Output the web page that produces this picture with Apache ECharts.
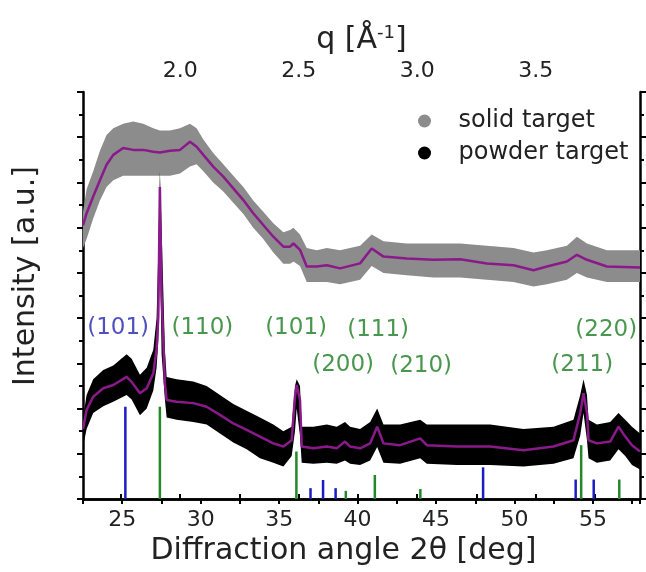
<!DOCTYPE html>
<html>
<head>
<meta charset="utf-8">
<script src="https://cdn.jsdelivr.net/npm/echarts@6/dist/echarts.min.js"></script>
<style>
  html, body { margin: 0; padding: 0; background: #fff; }
  #chart { width: 646px; height: 572px; }
</style>
</head>
<body>
<div id="chart"></div>
<script>
// solid target: smoothed curve and the envelope of the gray data cloud
const solidX    = [22.5, 22.73, 23.15, 23.58, 24.0, 24.43, 25.06, 25.7, 26.34, 26.98, 27.4, 28.04, 28.68, 29.32, 29.74, 30.17, 30.8, 31.44, 32.08, 32.72, 33.35, 33.99, 34.63, 35.27, 35.7, 35.91, 36.33, 36.76, 37.4, 38.04, 38.88, 40.16, 40.9, 41.65, 43.14, 44.84, 46.54, 48.24, 49.94, 51.21, 52.07, 53.34, 53.98, 54.62, 55.89, 58.0]
const solidLine = [6.05, 6.32, 6.69, 7.05, 7.39, 7.61, 7.76, 7.72, 7.72, 7.68, 7.66, 7.7, 7.72, 7.9, 7.79, 7.61, 7.35, 7.13, 6.87, 6.61, 6.32, 6.06, 5.8, 5.58, 5.58, 5.65, 5.51, 5.14, 5.14, 5.17, 5.1, 5.21, 5.54, 5.36, 5.32, 5.29, 5.3, 5.21, 5.17, 5.06, 5.14, 5.25, 5.4, 5.29, 5.14, 5.12]
const solidHi   = [6.35, 6.85, 7.25, 7.7, 8.05, 8.2, 8.3, 8.35, 8.3, 8.2, 8.15, 8.15, 8.2, 8.3, 8.2, 7.95, 7.65, 7.4, 7.15, 6.9, 6.6, 6.35, 6.1, 5.9, 5.95, 6.0, 5.85, 5.55, 5.5, 5.55, 5.5, 5.6, 5.85, 5.7, 5.65, 5.65, 5.65, 5.6, 5.55, 5.45, 5.5, 5.6, 5.8, 5.65, 5.5, 5.5]
const solidLo   = [5.55, 5.75, 6.2, 6.6, 6.9, 7.05, 7.15, 7.15, 7.15, 7.15, 7.15, 7.15, 7.2, 7.35, 7.4, 7.25, 7.0, 6.8, 6.55, 6.3, 6.0, 5.75, 5.45, 5.2, 5.2, 5.25, 5.15, 4.8, 4.8, 4.8, 4.75, 4.85, 5.15, 5.0, 4.95, 4.9, 4.9, 4.85, 4.8, 4.7, 4.75, 4.85, 5.0, 4.9, 4.8, 4.8]

// powder target: smoothed curve and the envelope of the black data cloud
const powderX    = [22.5, 22.73, 23.15, 23.79, 24.43, 25.28, 25.6, 26.13, 26.56, 26.98, 27.19, 27.3, 27.4, 27.51, 27.72, 27.83, 28.47, 29.53, 30.38, 31.23, 32.08, 32.93, 33.78, 34.63, 35.27, 35.8, 36.01, 36.12, 36.33, 36.44, 37.18, 38.04, 38.67, 39.2, 39.52, 40.16, 40.8, 41.25, 41.65, 42.71, 43.99, 44.41, 46.33, 48.45, 50.57, 52.49, 53.76, 54.19, 54.4, 54.62, 54.72, 55.25, 56.1, 56.63, 57.06, 57.49, 58.0]
const powderLine = [1.55, 1.97, 2.26, 2.45, 2.52, 2.7, 2.59, 2.34, 2.45, 2.78, 3.3, 4.03, 6.9, 4.5, 2.56, 2.19, 2.15, 2.12, 2.04, 1.86, 1.67, 1.53, 1.38, 1.23, 1.16, 1.3, 2.26, 2.52, 2.19, 1.16, 1.12, 1.16, 1.12, 1.27, 1.16, 1.12, 1.23, 1.6, 1.23, 1.19, 1.34, 1.19, 1.16, 1.16, 1.08, 1.16, 1.3, 1.9, 2.34, 1.9, 1.3, 1.23, 1.27, 1.6, 1.38, 1.19, 1.05]
const powderHi   = [1.8, 2.3, 2.65, 2.85, 2.95, 3.2, 3.1, 2.75, 2.9, 3.3, 4.0, 5.5, 7.25, 6.0, 3.3, 2.7, 2.65, 2.6, 2.5, 2.3, 2.1, 1.95, 1.8, 1.65, 1.5, 1.6, 2.5, 2.65, 2.5, 1.6, 1.6, 1.65, 1.6, 1.7, 1.6, 1.55, 1.7, 2.0, 1.65, 1.65, 1.75, 1.65, 1.65, 1.65, 1.55, 1.6, 1.75, 2.3, 2.65, 2.3, 1.75, 1.65, 1.7, 1.9, 1.75, 1.6, 1.45]
const powderLo   = [1.15, 1.55, 1.9, 2.05, 2.15, 2.3, 2.2, 1.85, 2.0, 2.4, 2.9, 3.5, 5.5, 3.2, 2.2, 1.8, 1.75, 1.7, 1.65, 1.45, 1.25, 1.1, 0.9, 0.8, 0.72, 0.95, 1.5, 2.0, 1.4, 0.8, 0.78, 0.8, 0.78, 0.85, 0.78, 0.75, 0.85, 1.15, 0.8, 0.78, 0.9, 0.78, 0.75, 0.75, 0.72, 0.78, 0.9, 1.4, 1.9, 1.3, 0.9, 0.8, 0.85, 1.1, 0.95, 0.75, 0.65]

// reference patterns: anatase (blue) and rutile (green) stick lines
const anataseX = [25.2, 37.0, 37.8, 38.6, 48.0, 53.9, 55.05]
const anataseH = [2.04, 0.24, 0.42, 0.24, 0.7, 0.43, 0.43]
const rutileX  = [27.4, 36.1, 39.25, 41.1, 44.0, 54.25, 56.68]
const rutileH  = [2.04, 1.05, 0.18, 0.53, 0.22, 1.19, 0.43]

// Miller index labels
const hklText = ['(101)', '(110)', '(101)', '(111)', '(200)', '(210)', '(220)', '(211)']
const hklX    = [24.74, 30.11, 36.08, 41.31, 39.08, 44.05, 55.85, 54.32]
const hklY    = [3.77, 3.77, 3.77, 3.73, 2.96, 2.93, 3.73, 2.96]
const hklPhase = ['a', 'r', 'r', 'r', 'r', 'r', 'r', 'r']

// axis ticks
const qLabels = [2.0, 2.5, 3.0, 3.5]
const qTicks  = [1.75, 2.0, 2.25, 2.5, 2.75, 3.0, 3.25, 3.5, 3.75]

const FONT = 'DejaVu Sans'
const GRAY = '#8c8c8c'
const PURPLE = '#8a1a8a'
const BLUE = '#1c1cc4'
const GREEN = '#22882a'

const chart = echarts.init(document.getElementById('chart'))

const band = (name, xs, hi, lo, color, z) => ({
  name, type: 'custom', z, clip: true,
  data: [[xs[0], lo[0]]],
  renderItem: (params, api) => {
    const top = xs.map((x, i) => api.coord([x, hi[i]]))
    const bot = xs.map((x, i) => api.coord([x, lo[i]])).reverse()
    return { type: 'polygon', shape: { points: top.concat(bot) }, style: { fill: color } }
  }
})

const sticks = (name, xs, hs, color) => ({
  name, type: 'custom', z: 6,
  data: xs.map((x, i) => [x, hs[i]]),
  renderItem: (params, api) => {
    const a = api.coord([api.value(0), 0])
    const b = api.coord([api.value(0), api.value(1)])
    return { type: 'line', shape: { x1: a[0], y1: a[1], x2: b[0], y2: b[1] }, style: { stroke: color, lineWidth: 2.5 } }
  }
})

const fit = (name, xs, ys, z) => ({
  name, type: 'line', z, showSymbol: false, silent: true,
  data: xs.map((x, i) => [x, ys[i]]),
  lineStyle: { color: PURPLE, width: 2.5 }, itemStyle: { color: PURPLE }
})

const axisLine = { show: true, lineStyle: { color: '#000', width: 2.5 } }
const tickStyle = { color: '#000', width: 2 }

const option = {
  animation: false,
  grid: { left: 83, right: 6, top: 92, bottom: 73 },
  xAxis: [
    {
      type: 'value', min: 22.5, max: 58, interval: 2.5, position: 'bottom',
      axisLine, splitLine: { show: false },
      axisTick: { length: 5, lineStyle: tickStyle },
      axisLabel: { margin: 10, fontFamily: FONT, fontSize: 22, color: '#222',
        formatter: v => (v % 5 === 0 ? String(v) : '') },
      name: 'Diffraction angle 2θ [deg]', nameLocation: 'middle', nameGap: 34,
      nameTextStyle: { fontFamily: FONT, fontSize: 30, color: '#222', padding: [0, 36, 0, 0] }
    },
    {
      type: 'value', min: 1.59, max: 3.94, position: 'top',
      axisLine, splitLine: { show: false },
      axisTick: { customValues: qTicks, length: 5, lineStyle: tickStyle },
      axisLabel: { customValues: qLabels, margin: 10, fontFamily: FONT, fontSize: 22, color: '#222',
        formatter: v => v.toFixed(1) },
      name: '{a|q [Å}{s|-1}{a|]}', nameLocation: 'middle', nameGap: 35,
      nameTextStyle: { rich: {
        a: { fontFamily: FONT, fontSize: 30, color: '#222' },
        s: { fontFamily: FONT, fontSize: 18, color: '#222', verticalAlign: 'top', padding: [0, 0, 14, 0] }
      } }
    }
  ],
  yAxis: [
    {
      type: 'value', min: 0, max: 9, interval: 1, position: 'left',
      axisLine, splitLine: { show: false }, axisLabel: { show: false },
      axisTick: { show: true, length: 6, lineStyle: tickStyle },
      minorTick: { show: true, splitNumber: 2, length: 4, lineStyle: tickStyle }
    },
    {
      type: 'value', min: 0, max: 9, interval: 1, position: 'right',
      axisLine, splitLine: { show: false }, axisLabel: { show: false },
      axisTick: { show: true, length: 6, lineStyle: tickStyle },
      minorTick: { show: true, splitNumber: 2, length: 4, lineStyle: tickStyle }
    }
  ],
  legend: {
    orient: 'vertical', left: 413, top: 104, itemGap: 8,
    itemWidth: 14, itemHeight: 13,
    textStyle: { fontFamily: FONT, fontSize: 24, color: '#222', padding: [0, 0, 0, 22] },
    data: [
      { name: 'solid target', icon: 'circle', itemStyle: { color: GRAY } },
      { name: 'powder target', icon: 'circle', itemStyle: { color: '#000' } }
    ]
  },
  graphic: [{
    type: 'text', x: 26, y: 276, rotation: Math.PI / 2,
    style: { text: 'Intensity [a.u.]', font: '30px "DejaVu Sans"', fill: '#222', align: 'center', verticalAlign: 'middle' }
  }],
  series: [
    band('solid target', solidX, solidHi, solidLo, GRAY, 2),
    band('powder target', powderX, powderHi, powderLo, '#000', 3),
    fit('solid fit', solidX, solidLine, 4),
    fit('powder fit', powderX, powderLine, 5),
    sticks('anatase', anataseX, anataseH, BLUE),
    sticks('rutile', rutileX, rutileH, GREEN),
    {
      name: 'hkl', type: 'scatter', symbolSize: 2, z: 7, silent: true,
      itemStyle: { color: 'transparent' },
      labelLayout: { hideOverlap: false },
      data: hklText.map((t, i) => ({
        name: t, value: [hklX[i], hklY[i]],
        label: { color: hklPhase[i] === 'a' ? '#2424b0' : '#1b7d22' }
      })),
      label: { show: true, position: 'inside', formatter: p => p.name,
        fontFamily: FONT, fontSize: 23, align: 'center', verticalAlign: 'middle' }
    }
  ]
}

chart.setOption(option)
</script>
</body>
</html>
